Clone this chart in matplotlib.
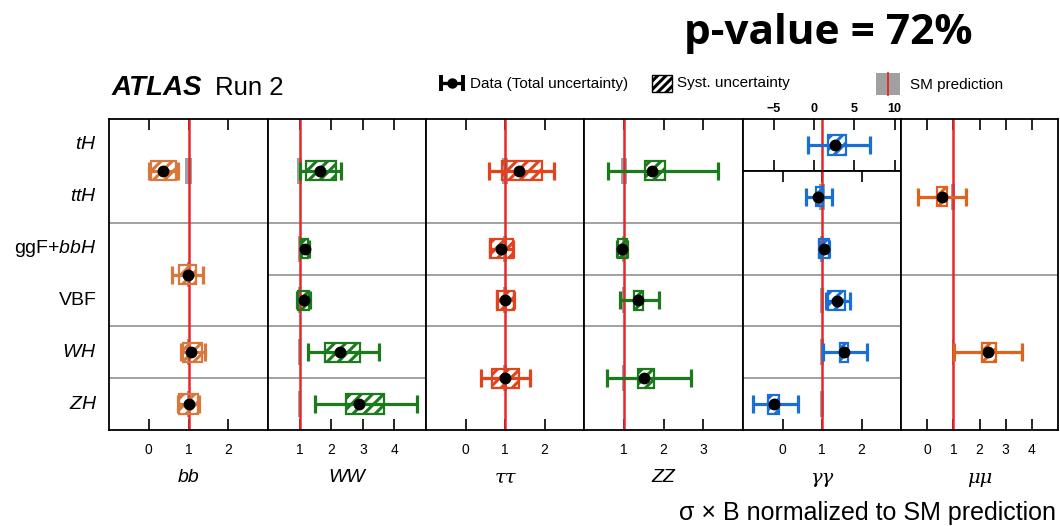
import matplotlib
matplotlib.use("Agg")
import matplotlib.pyplot as plt
from matplotlib.patches import Rectangle

plt.rcParams['font.family'] = ['Liberation Sans', 'DejaVu Sans']
plt.rcParams['mathtext.fontset'] = 'custom'
plt.rcParams['mathtext.rm'] = 'Liberation Sans'
plt.rcParams['mathtext.it'] = 'Liberation Sans:italic'
plt.rcParams['hatch.linewidth'] = 2.2

# production-mode rows, top to bottom
rows = ['$tH$', '$ttH$', 'ggF+$bbH$', 'VBF', '$WH$', '$ZH$']

# each channel: merged row groups, best fit, total (-,+), syst (-,+)
bb_groups = [(0, 1), (2, 3), (4, 4), (5, 5)]
bb_mu = [0.37, 0.98, 1.07, 1.0]
bb_tot = [(0.36, 0.36), (0.40, 0.38), (0.25, 0.35), (0.27, 0.27)]
bb_syst = [(0.31, 0.31), (0.22, 0.22), (0.22, 0.28), (0.25, 0.25)]

ww_groups = [(0, 1), (2, 2), (3, 3), (4, 4), (5, 5)]
ww_mu = [1.63, 1.16, 1.13, 2.27, 2.87]
ww_tot = [(0.63, 0.67), (0.13, 0.13), (0.20, 0.20), (1.02, 1.23), (1.37, 1.83)]
ww_syst = [(0.44, 0.51), (0.12, 0.12), (0.18, 0.18), (0.48, 0.63), (0.41, 0.79)]

tt_groups = [(0, 1), (2, 2), (3, 3), (4, 5)]
tt_mu = [1.35, 0.90, 1.0, 1.0]
tt_tot = [(0.75, 0.88), (0.28, 0.30), (0.20, 0.22), (0.60, 0.63)]
tt_syst = [(0.42, 0.58), (0.27, 0.30), (0.20, 0.22), (0.33, 0.35)]

zz_groups = [(0, 1), (2, 2), (3, 3), (4, 5)]
zz_mu = [1.70, 0.96, 1.35, 1.51]
zz_tot = [(1.10, 1.68), (0.12, 0.12), (0.45, 0.53), (0.94, 1.17)]
zz_syst = [(0.17, 0.35), (0.10, 0.12), (0.10, 0.13), (0.16, 0.24)]

# gamma gamma: tH on its own wider axis
yy_th_mu = [2.6]
yy_th_tot = [(3.35, 4.3)]
yy_th_syst = [(0.85, 1.4)]
yy_groups = [(1, 1), (2, 2), (3, 3), (4, 4), (5, 5)]
yy_mu = [0.90, 1.05, 1.38, 1.55, -0.22]
yy_tot = [(0.30, 0.35), (0.13, 0.13), (0.28, 0.32), (0.53, 0.59), (0.53, 0.61)]
yy_syst = [(0.05, 0.13), (0.12, 0.12), (0.22, 0.20), (0.10, 0.11), (0.15, 0.13)]

mm_groups = [(0, 2), (3, 5)]
mm_mu = [0.55, 2.32]
mm_tot = [(0.91, 0.94), (1.28, 1.32)]
mm_syst = [(0.19, 0.22), (0.23, 0.30)]

# SM theory band half-width (groups containing tH/ttH have larger ones)
theo_big = 0.08
theo_small = 0.04

channels = [
    ('bb', bb_groups, bb_mu, bb_tot, bb_syst, '#d9783a', (-1, 3), [0, 1, 2]),
    ('WW', ww_groups, ww_mu, ww_tot, ww_syst, '#1b7a1b', (0, 5), [1, 2, 3, 4]),
    ('ττ', tt_groups, tt_mu, tt_tot, tt_syst, '#e2421c', (-1, 3), [0, 1, 2]),
    ('ZZ', zz_groups, zz_mu, zz_tot, zz_syst, '#1b7a1b', (0, 4), [1, 2, 3]),
    ('γγ', yy_groups, yy_mu, yy_tot, yy_syst, '#1a6fd4', (-1, 3), [0, 1, 2]),
    ('μμ', mm_groups, mm_mu, mm_tot, mm_syst, '#e0621f', (-1, 5), [0, 1, 2, 3, 4]),
]

RED = '#e8262a'
GREY_SM = '#a0a0a0'
GREY_LINE = '#9a9a9a'
BOX_H = 0.37
SM_H = 0.5

W, H = 1060, 526
fig = plt.figure(figsize=(W / 100, H / 100), dpi=100)


def ax_at(x0, x1, ytop, ybot):
    return fig.add_axes([x0 / W, 1 - ybot / H, (x1 - x0) / W, (ybot - ytop) / H])


def style_axis(ax, xlim, ticks, labeltop=False):
    ax.set_xlim(*xlim)
    ax.set_xticks(ticks)
    ax.set_yticks([])
    ax.tick_params(axis='x', direction='in', top=True, bottom=True, length=8,
                   width=1.2, labelsize=10, pad=9,
                   labelbottom=not labeltop, labeltop=labeltop)
    for s in ax.spines.values():
        s.set_linewidth(1.3)


def draw_point(ax, mu, y, tot, syst, color, theo):
    ax.add_patch(Rectangle((1 - theo, y - SM_H / 2), 2 * theo, SM_H,
                           facecolor=GREY_SM, edgecolor='none', zorder=1))
    ax.add_patch(Rectangle((mu - syst[0], y - BOX_H / 2), syst[0] + syst[1], BOX_H,
                           facecolor='none', edgecolor=color, hatch='///',
                           lw=1.6, zorder=3))
    ax.errorbar([mu], [y], xerr=[[tot[0]], [tot[1]]], fmt='none', ecolor=color,
                elinewidth=2.3, capsize=6.8, capthick=2.3, zorder=4)
    ax.plot([mu], [y], 'o', color='black', ms=7.5, zorder=5)


edges = [109, 268, 426, 584, 743, 901, 1058]
TOP, SPLIT, BOT = 119, 171, 430

for i, (name, groups, mus, tots, systs, color, xlim, ticks) in enumerate(channels):
    if name == 'γγ':
        # separate tH sub-axis on top
        axt = ax_at(edges[i], edges[i + 1], TOP, SPLIT)
        style_axis(axt, (-8.8, 10.8), [-5, 0, 5, 10], labeltop=True)
        axt.tick_params(labelsize=9, pad=3)
        for t in axt.get_xticklabels():
            t.set_fontweight('bold')
        axt.set_ylim(0, 1)
        axt.axvline(1, color=RED, lw=1.8, zorder=2)
        draw_point(axt, yy_th_mu[0], 0.5, yy_th_tot[0], yy_th_syst[0], color, theo_small)
        ax = ax_at(edges[i], edges[i + 1], SPLIT, BOT)
        nrows = 5
        offset = 1
    else:
        ax = ax_at(edges[i], edges[i + 1], TOP, BOT)
        nrows = 6
        offset = 0
    style_axis(ax, xlim, ticks)
    ax.set_ylim(0, nrows)
    ax.axvline(1, color=RED, lw=1.8, zorder=2)
    for (a, b), mu, tot, syst in zip(groups, mus, tots, systs):
        y = nrows - ((a - offset) + (b - offset) + 1) / 2
        theo = theo_big if a < 2 else theo_small
        draw_point(ax, mu, y, tot, syst, color, theo)
    for (a, b) in groups[:-1]:
        ax.axhline(nrows - (b - offset + 1), color=GREY_LINE, lw=1.3, zorder=0)
    if name in ('bb', 'WW', 'ZZ'):
        lab_kw = dict(style='italic', family=['Liberation Sans'])
    else:
        lab_kw = dict(style='italic', family=['DejaVu Serif'])
    fig.text((edges[i] + edges[i + 1]) / 2 / W, 1 - 478 / H, name, ha='center',
             va='center', fontsize=14, **lab_kw)

# row labels
for r, lab in enumerate(rows):
    yc = TOP + (r + 0.5) * (BOT - TOP) / 6
    fig.text(97 / W, 1 - yc / H, lab, ha='right', va='center', fontsize=14)

# header
fig.text(112 / W, 1 - 88 / H, 'ATLAS', fontsize=20, fontweight='bold', style='italic',
         va='center')
fig.text(215 / W, 1 - 88 / H, 'Run 2', fontsize=18.5, va='center')
fig.text(684 / W, 1 - 33 / H, 'p-value = 72%', fontsize=30.5, fontweight='bold',
         family=['Open Sans', 'DejaVu Sans'], va='center')
fig.text(1056 / W, 1 - 513 / H, 'σ × B normalized to SM prediction', fontsize=18,
         ha='right', va='center')

# legend drawn in pixel space
leg = fig.add_axes([0, 0, 1, 1], zorder=10)
leg.set_xlim(0, W)
leg.set_ylim(H, 0)
leg.axis('off')
leg.errorbar([452], [83], xerr=[[11], [11]], fmt='none', ecolor='black',
             elinewidth=2.4, capsize=6, capthick=2.8)
leg.plot([452], [83], 'o', color='black', ms=6.5)
leg.text(470, 84, 'Data (Total uncertainty)', fontsize=11, va='center')
leg.add_patch(Rectangle((652, 75), 20, 17, facecolor='white', edgecolor='black',
                        hatch='////', lw=1.0))
leg.text(677, 83, 'Syst. uncertainty', fontsize=11, va='center')
leg.add_patch(Rectangle((876, 73), 24, 22, facecolor=GREY_SM, edgecolor='none'))
leg.plot([888, 888], [73, 95], color=RED, lw=1.3)
leg.text(910, 85, 'SM prediction', fontsize=11, va='center')

fig.savefig('out.png', dpi=100)
